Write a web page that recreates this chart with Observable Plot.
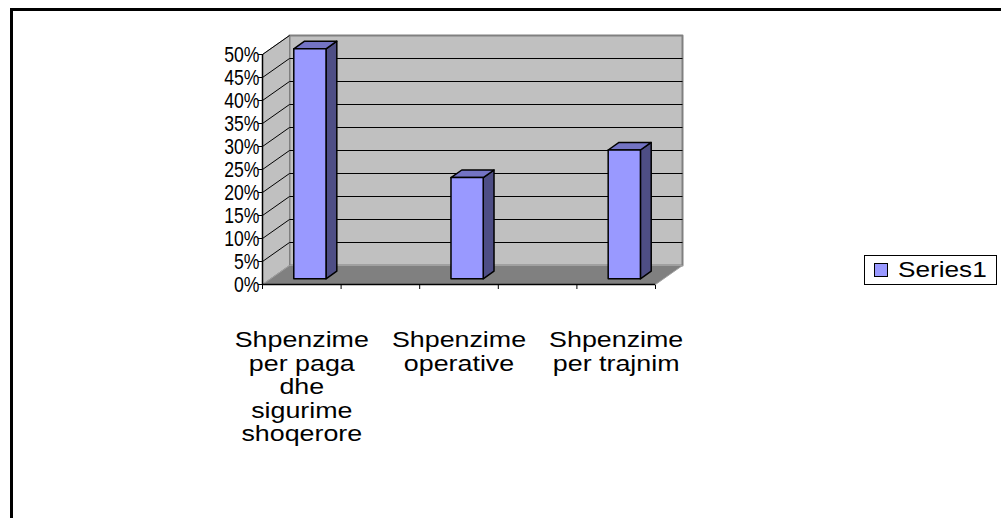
<!DOCTYPE html>
<html>
<head>
<meta charset="utf-8">
<script src="https://cdn.jsdelivr.net/npm/d3@7"></script>
<script src="https://cdn.jsdelivr.net/npm/@observablehq/plot@0.6"></script>
<style>
  html, body { margin: 0; padding: 0; background: #fff; }
  #wrap { position: relative; width: 1001px; height: 518px; overflow: hidden; font-family: "Liberation Sans", Arial, sans-serif; }
  #frame { position: absolute; left: 10px; top: 8px; width: 1100px; height: 700px; border: 3px solid #000; box-sizing: border-box; }
  #chart { position: absolute; left: 0; top: 0; }
  #legend { position: absolute; left: 864px; top: 255px; width: 133px; height: 30px; border: 1px solid #000; box-sizing: border-box; background: #fff; display: flex; align-items: center; font-size: 22px; color: #000; white-space: nowrap; }
  #legend .sw { width: 14px; height: 14px; background: #9999FF; border: 1px solid #000; margin-left: 9px; margin-right: 10px; box-sizing: border-box; flex: none; }
  #legend span { display: inline-block; transform: scaleX(1.19); transform-origin: 0 50%; }
</style>
</head>
<body>
<div id="wrap">
  <div id="frame"></div>
  <div id="chart"></div>
  <div id="legend"><div class="sw"></div><span id="legtext"></span></div>
</div>
<script>
// ---- data ----
const categories = [
  "Shpenzime\nper paga\ndhe\nsigurime\nshoqerore",
  "",
  "Shpenzime\noperative",
  "",
  "Shpenzime\nper trajnim"
];
const values = [0.50, null, 0.22, null, 0.28];
const yTicks = [0, 0.05, 0.10, 0.15, 0.20, 0.25, 0.30, 0.35, 0.40, 0.45, 0.50];
const seriesName = "Series1";

document.getElementById("legtext").textContent = seriesName;

// ---- oblique 3D geometry (in data units) ----
const xMax = categories.length;
const yMax = yTicks[yTicks.length - 1];
const DX = 27 / 78.6;   // full depth, x units
const DY = 19 / 460;    // full depth, y units
const P = (x, y, d) => [x + d * DX, y + d * DY];
const poly = (id, pts) => [...pts, pts[0]].map(([x, y]) => ({id, x, y}));

const backWall = poly("back", [P(0,0,1), P(xMax,0,1), P(xMax,yMax,1), P(0,yMax,1)]);
const sideWall = poly("side", [P(0,0,0), P(0,0,1), P(0,yMax,1), P(0,yMax,0)]);
const floor = poly("floor", [P(0,0,0), P(xMax,0,0), P(xMax,0,1), P(0,0,1)]);

const fronts = [], sides = [], tops = [];
values.forEach((v, i) => {
  if (v == null) return;
  const x0 = i + 0.295, x1 = i + 0.705, d0 = 0.3, d1 = 0.7;
  fronts.push(...poly("f" + i, [P(x0,0,d0), P(x1,0,d0), P(x1,v,d0), P(x0,v,d0)]));
  sides.push(...poly("s" + i, [P(x1,0,d0), P(x1,0,d1), P(x1,v,d1), P(x1,v,d0)]));
  tops.push(...poly("t" + i, [P(x0,v,d0), P(x1,v,d0), P(x1,v,d1), P(x0,v,d1)]));
});

const labelData = categories.map((c, i) => ({x: i + 0.5, text: c}));
const fmtPct = d3.format(".0%");

const chart = Plot.plot({
  width: 1001,
  height: 518,
  marginLeft: 262,
  marginRight: 1001 - 655,
  marginTop: 54,
  marginBottom: 518 - 284,
  style: {background: "transparent", fontSize: "20px", fontFamily: "Liberation Sans, Arial, sans-serif", color: "#000"},
  x: {domain: [0, xMax], ticks: d3.range(xMax + 1), tickFormat: () => "", tickSize: 5, label: null},
  y: {domain: [0, yMax], ticks: yTicks, tickFormat: () => "", tickSize: 4, label: null},
  marks: [
    Plot.line(backWall, {x: "x", y: "y", z: "id", fill: "#C0C0C0", stroke: "#808080", strokeWidth: 2}),
    Plot.line(sideWall, {x: "x", y: "y", z: "id", fill: "#C0C0C0", stroke: "#808080", strokeWidth: 1}),
    Plot.line(floor, {x: "x", y: "y", z: "id", fill: "#808080", stroke: "#A0A0A0", strokeWidth: 1}),
    // back-wall gridlines
    Plot.link(yTicks.slice(1, -1), {x1: DX, x2: xMax + DX, y1: d => d + DY, y2: d => d + DY, stroke: "#000", strokeWidth: 1}),
    // side-wall diagonals
    Plot.link(yTicks.slice(1), {x1: 0, x2: DX, y1: d => d, y2: d => d + DY, stroke: "#000", strokeWidth: 1}),
    // bars
    Plot.line(sides, {x: "x", y: "y", z: "id", fill: "#4E4E85", stroke: "#000", strokeWidth: 1.5}),
    Plot.line(tops, {x: "x", y: "y", z: "id", fill: "#7373C4", stroke: "#000", strokeWidth: 1.5}),
    Plot.line(fronts, {x: "x", y: "y", z: "id", fill: "#9999FF", stroke: "#000", strokeWidth: 1.5}),
    // axis lines
    Plot.ruleX([0], {y1: 0, y2: yMax, stroke: "#000", strokeWidth: 1.5}),
    Plot.ruleY([0], {x1: 0, x2: xMax, stroke: "#000", strokeWidth: 1.5}),
    // y tick labels
    Plot.text(yTicks, {x: 0, y: d => d, text: d => fmtPct(d), textAnchor: "end", dx: -3, fontSize: 22, fill: "#000"}),
    // category labels
    Plot.text(labelData, {x: "x", y: 0, text: "text", dy: 46, lineAnchor: "top", lineHeight: 1.07, fontSize: 22, fill: "#000"})
  ]
});

// horizontal glyph scaling of texts to match the reference proportions
function stretch(t, sx) {
  const x = parseFloat(t.getAttribute("x")) || 0;
  const T = t.getAttribute("transform") || "";
  t.setAttribute("transform", `${T} translate(${x},0) scale(${sx},1) translate(${-x},0)`);
}
chart.querySelectorAll("text").forEach(t => {
  const s = t.textContent;
  if (/^\d+%$/.test(s)) stretch(t, 0.8);
  else if (/^Shpenzime/.test(s)) stretch(t, 1.22);
});
document.getElementById("chart").appendChild(chart);
</script>
</body>
</html>
